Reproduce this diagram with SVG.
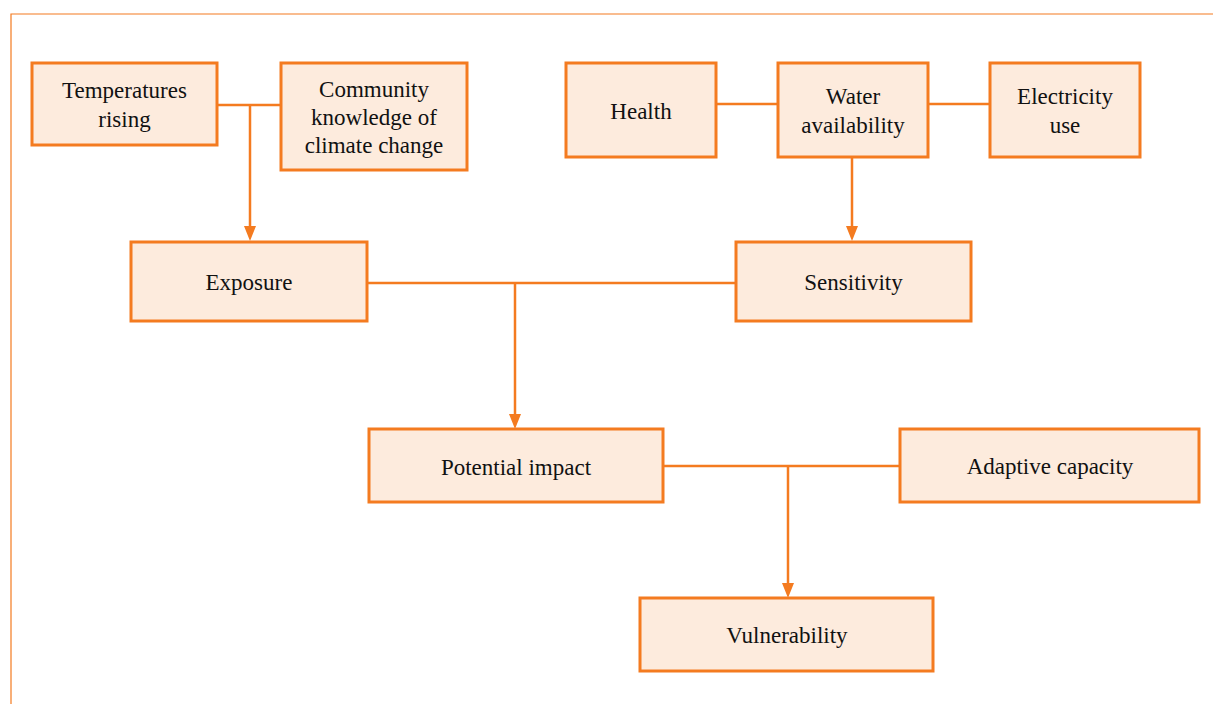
<svg xmlns="http://www.w3.org/2000/svg" width="1213" height="704" viewBox="0 0 1213 704">
  <style>
    .box { fill: #FDEBDD; stroke: #F47B20; stroke-width: 3; }
    .lbl { font-size: 23px; fill: #111111; text-anchor: middle; }
    .wire { fill: none; stroke: #F47B20; stroke-width: 2.5; }
    .frame { fill: none; stroke: #F47B20; stroke-width: 1.2; }
    .head { fill: #F47B20; }
  </style>

  <rect width="1213" height="704" fill="#ffffff"/>
  <path class="frame" d="M11,704 V14 H1213"/>

  <!-- connectors: straight joins plus downward arrows -->
  <g id="connectors">
    <path class="wire" d="M217,105 H281"/>
    <path class="wire" d="M250,105 V226"/>
    <path class="wire" d="M716,104 H778"/>
    <path class="wire" d="M928,104 H990"/>
    <path class="wire" d="M852,157 V226"/>
    <path class="wire" d="M367,283 H736"/>
    <path class="wire" d="M515,283 V414"/>
    <path class="wire" d="M663,466 H900"/>
    <path class="wire" d="M788,466 V583"/>
    <path class="head" d="M244,226 H256 L250,241 Z"/>
    <path class="head" d="M846,226 H858 L852,241 Z"/>
    <path class="head" d="M509,414 H521 L515,429 Z"/>
    <path class="head" d="M782,583 H794 L788,598 Z"/>
  </g>

  <g font-family="Liberation Serif, Times New Roman, serif">
    <g id="temperatures">
      <rect class="box" x="32" y="63" width="185" height="82"/>
      <text class="lbl" x="124.5" y="98">Temperatures</text>
      <text class="lbl" x="124.5" y="127">rising</text>
    </g>
    <g id="community">
      <rect class="box" x="281" y="63" width="186" height="107"/>
      <text class="lbl" x="374" y="97">Community</text>
      <text class="lbl" x="374" y="125">knowledge of</text>
      <text class="lbl" x="374" y="153">climate change</text>
    </g>
    <g id="health">
      <rect class="box" x="566" y="63" width="150" height="94"/>
      <text class="lbl" x="641" y="119">Health</text>
    </g>
    <g id="water">
      <rect class="box" x="778" y="63" width="150" height="94"/>
      <text class="lbl" x="853" y="104">Water</text>
      <text class="lbl" x="853" y="133">availability</text>
    </g>
    <g id="electricity">
      <rect class="box" x="990" y="63" width="150" height="94"/>
      <text class="lbl" x="1065" y="104">Electricity</text>
      <text class="lbl" x="1065" y="133">use</text>
    </g>
    <g id="exposure">
      <rect class="box" x="131" y="242" width="236" height="79"/>
      <text class="lbl" x="249" y="290">Exposure</text>
    </g>
    <g id="sensitivity">
      <rect class="box" x="736" y="242" width="235" height="79"/>
      <text class="lbl" x="853.5" y="290">Sensitivity</text>
    </g>
    <g id="potential-impact">
      <rect class="box" x="369" y="429" width="294" height="73"/>
      <text class="lbl" x="516" y="475">Potential impact</text>
    </g>
    <g id="adaptive-capacity">
      <rect class="box" x="900" y="429" width="299" height="73"/>
      <text class="lbl" x="1050" y="474">Adaptive capacity</text>
    </g>
    <g id="vulnerability">
      <rect class="box" x="640" y="598" width="293" height="73"/>
      <text class="lbl" x="787" y="643">Vulnerability</text>
    </g>
  </g>
</svg>
